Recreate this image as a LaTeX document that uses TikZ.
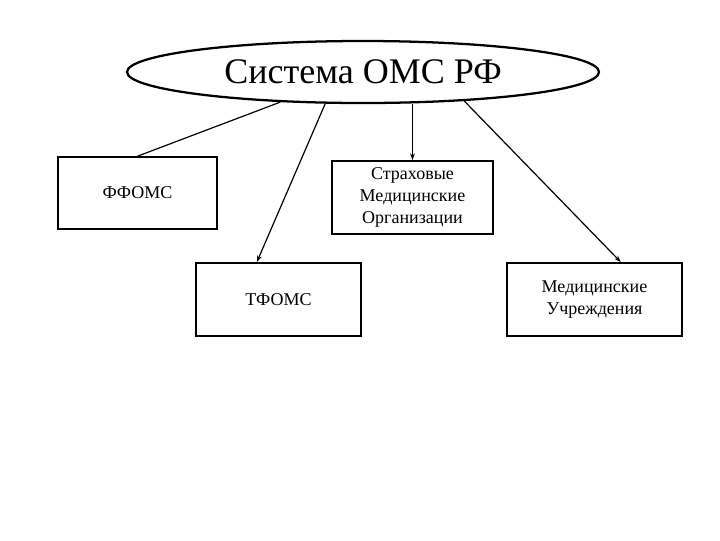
\documentclass[tikz,border=0pt]{standalone}
\usepackage{fontspec}
\newfontfamily\timesfont{LiberationSerif}[Extension=.ttf, UprightFont=*-Regular]
\usetikzlibrary{shapes.geometric,arrows.meta}
\begin{document}
\begin{tikzpicture}[x=0.75pt, y=-0.75pt, >={Stealth[length=5pt,width=3.5pt]}]

\tikzstyle{every node}=[font=\timesfont\fontsize{13.5}{16.5}\selectfont]
\tikzstyle{org} = [rectangle, draw, line width=1.2pt, align=center, inner sep=0pt]
\tikzstyle{link} = [line width=0.9pt]

\useasboundingbox (0,0) rectangle (720,540);

% Nodes
\node[ellipse, draw, line width=1.7pt, minimum width=354pt, minimum height=46.5pt, inner sep=0pt, font=\timesfont\fontsize{27}{32}\selectfont] (sys) at (363,72) {Система ОМС РФ};
\node[org, minimum width=119pt, minimum height=54pt] (ff) at (137.5,193) {ФФОМС};
\node[org, minimum width=121pt, minimum height=55pt] (strah) at (412.5,197.5) {Страховые\\Медицинские\\Организации};
\node[org, minimum width=124pt, minimum height=55pt] (tf) at (278.5,299.5) {ТФОМС};
\node[org, minimum width=131pt, minimum height=55pt] (med) at (594.5,299.5) {Медицинские\\Учреждения};

% Lines
\draw[link] (sys.200) -- (ff.north);
\draw[link, ->] (sys.220) -- (tf.120);
\draw[link, ->] (sys.south -| strah.north) -- (strah.north);
\draw[link, ->] (sys.344) -- (med.55);

\end{tikzpicture}
\end{document}
